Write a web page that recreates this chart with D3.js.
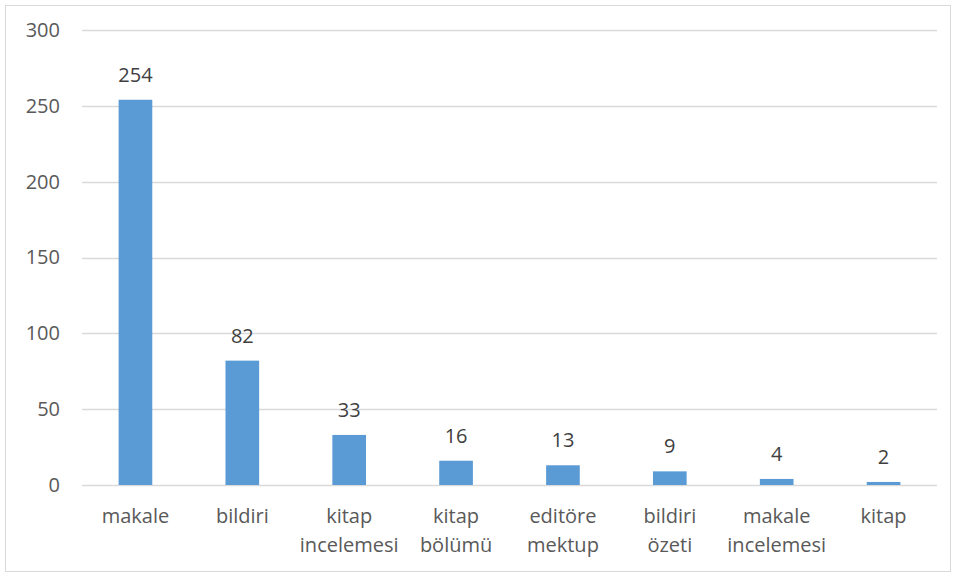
<!DOCTYPE html>
<html>
<head>
<meta charset="utf-8">
<script src="https://cdnjs.cloudflare.com/ajax/libs/d3/7.8.5/d3.min.js"></script>
<style>
  body { margin: 0; background: #fff; }
  text { font-family: "Open Sans", "Noto Sans", sans-serif; fill: #595959; }
</style>
</head>
<body>
<div id="chart"></div>
<script>
// chart values
var categories = ["makale", "bildiri", "kitap incelemesi", "kitap bölümü", "editöre mektup", "bildiri özeti", "makale incelemesi", "kitap"];
var counts = [254, 82, 33, 16, 13, 9, 4, 2];
var yTicks = [0, 50, 100, 150, 200, 250, 300];

var svgWidth = 956;
var svgHeight = 577;

var margin = { top: 30, right: 19, bottom: 92, left: 82 };
var width = svgWidth - margin.left - margin.right;
var height = svgHeight - margin.top - margin.bottom;

var svg = d3.select("#chart")
  .append("svg")
  .attr("width", svgWidth)
  .attr("height", svgHeight);

// outer border
svg.append("rect")
  .attr("x", 5.5)
  .attr("y", 5.5)
  .attr("width", svgWidth - 11)
  .attr("height", svgHeight - 11)
  .attr("fill", "#fff")
  .attr("stroke", "#d9d9d9");

var chartGroup = svg.append("g")
  .attr("transform", `translate(${margin.left}, ${margin.top})`);

var xScale = d3.scaleBand()
  .domain(categories)
  .range([0, width])
  .paddingInner(0.685)
  .paddingOuter(0.3425);

var yScale = d3.scaleLinear()
  .domain([0, 300])
  .range([height, 0]);

// gridlines
chartGroup.append("g")
  .selectAll("line")
  .data(yTicks)
  .enter()
  .append("line")
  .attr("x1", 0)
  .attr("x2", width)
  .attr("y1", d => Math.round(yScale(d)) + 0.5)
  .attr("y2", d => Math.round(yScale(d)) + 0.5)
  .attr("stroke", "#d9d9d9")
  .attr("stroke-width", 1.3);

// y axis labels
var leftAxis = d3.axisLeft(yScale).tickValues(yTicks).tickSize(0).tickPadding(22);
var yAxis = chartGroup.append("g").call(leftAxis);
yAxis.select(".domain").remove();
yAxis.selectAll("text")
  .style("font-size", "20px")
  .attr("fill", "#595959");

// bars
chartGroup.selectAll("rect.bar")
  .data(counts)
  .enter()
  .append("rect")
  .attr("class", "bar")
  .attr("x", (d, i) => xScale(categories[i]))
  .attr("y", d => yScale(d))
  .attr("width", xScale.bandwidth())
  .attr("height", d => height - yScale(d))
  .attr("fill", "#5b9bd5");

// value labels
chartGroup.selectAll("text.value")
  .data(counts)
  .enter()
  .append("text")
  .attr("class", "value")
  .attr("x", (d, i) => xScale(categories[i]) + xScale.bandwidth() / 2)
  .attr("y", d => yScale(d) - 18)
  .attr("text-anchor", "middle")
  .style("font-size", "20px")
  .style("fill", "#404040")
  .text(d => d);

// category labels, wrapped on spaces
var bottomAxis = d3.axisBottom(xScale).tickSize(0).tickFormat("");
var xAxis = chartGroup.append("g")
  .attr("transform", `translate(0, ${height})`)
  .call(bottomAxis);
xAxis.select(".domain").remove();

var catLabels = chartGroup.selectAll("text.cat")
  .data(categories)
  .enter()
  .append("text")
  .attr("class", "cat")
  .attr("text-anchor", "middle")
  .attr("x", d => xScale(d) + xScale.bandwidth() / 2)
  .attr("y", height + 38)
  .style("font-size", "20px");

catLabels.each(function(d) {
  var words = d.split(" ");
  var t = d3.select(this);
  words.forEach(function(w, j) {
    t.append("tspan")
      .attr("x", xScale(d) + xScale.bandwidth() / 2)
      .attr("dy", j === 0 ? 0 : 29)
      .text(w);
  });
});
</script>
</body>
</html>
